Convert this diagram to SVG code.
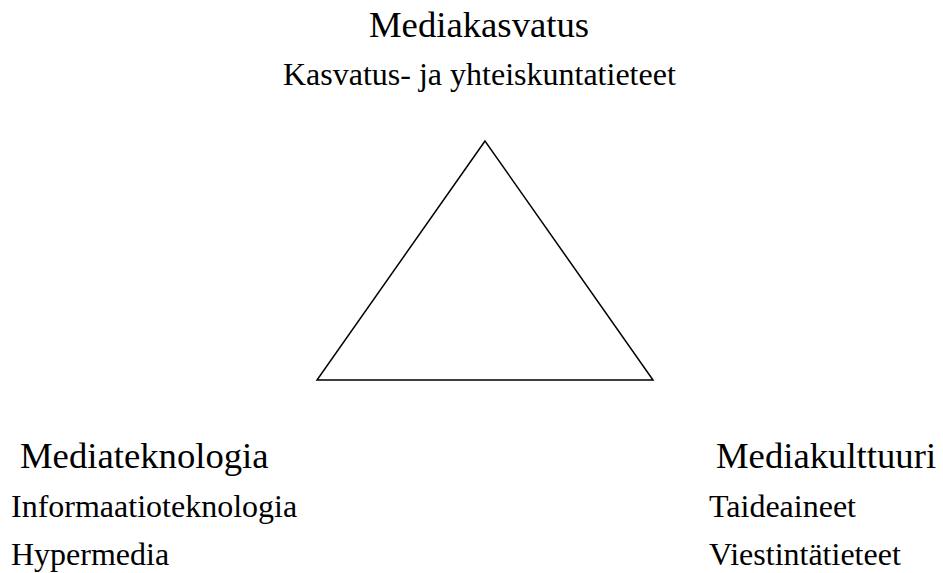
<svg xmlns="http://www.w3.org/2000/svg" width="943" height="573" viewBox="0 0 943 573">
  <style>
    text { font-family: "Liberation Serif", "Times New Roman", serif; fill: #000; }
    .head { font-size: 36.7px; }
    .sub { font-size: 32px; }
    .edge { fill: none; stroke: #000; stroke-width: 1.5; stroke-linejoin: miter; }
  </style>
  <rect width="943" height="573" fill="#fff"/>

  <!-- triangle linking the three areas -->
  <g id="connectors">
    <polygon class="edge" points="485,141 317,380 653,380"/>
  </g>

  <g id="node-mediakasvatus">
    <text class="head" x="369" y="37">Mediakasvatus</text>
    <text class="sub" x="283" y="85">Kasvatus- ja yhteiskuntatieteet</text>
  </g>

  <g id="node-mediateknologia">
    <text class="head" x="20" y="468">Mediateknologia</text>
    <text class="sub" x="11" y="517">Informaatioteknologia</text>
    <text class="sub" x="11" y="565">Hypermedia</text>
  </g>

  <g id="node-mediakulttuuri">
    <text class="head" x="716" y="468">Mediakulttuuri</text>
    <text class="sub" x="709" y="517">Taideaineet</text>
    <text class="sub" x="709" y="565">Viestintätieteet</text>
  </g>
</svg>
